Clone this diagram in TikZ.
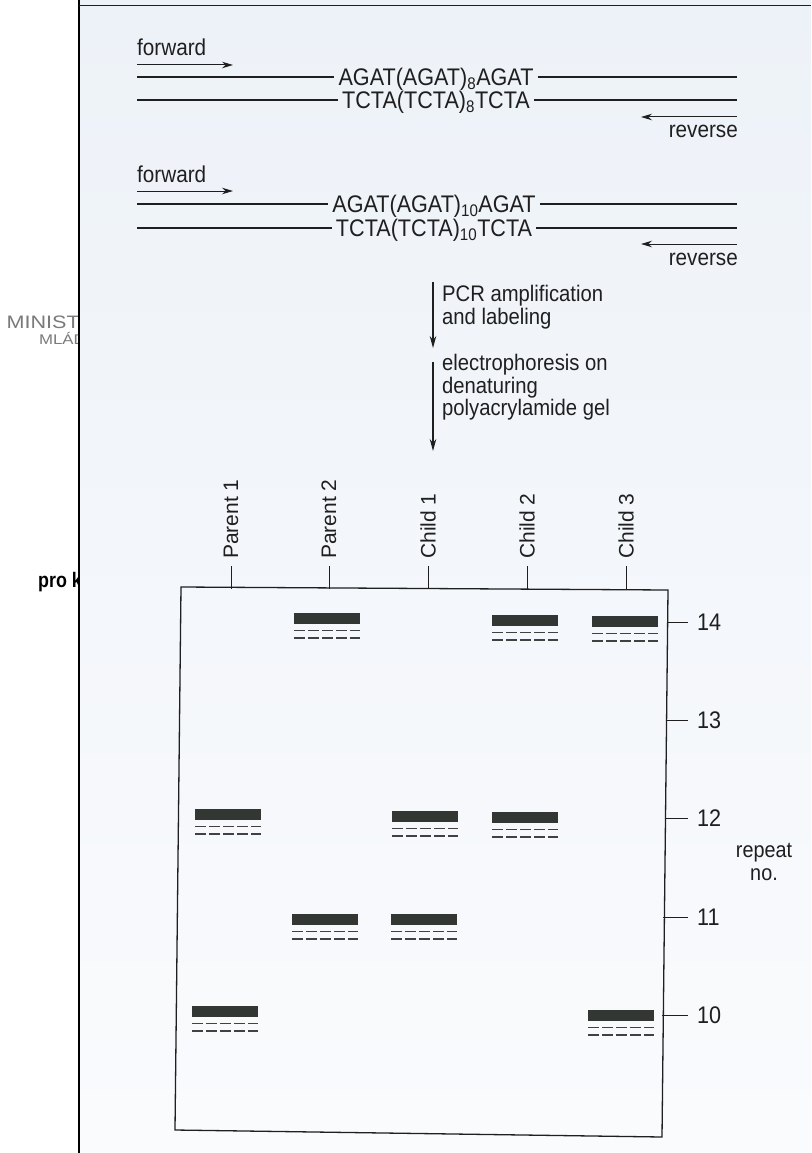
\documentclass[tikz,border=0pt]{standalone}
\usepackage{fontspec}
\setmainfont{Liberation Sans}
\newfontfamily\condsans{Liberation Sans}[FakeStretch=0.9]
\newfontfamily\widesans{Liberation Sans}[FakeStretch=1.2]
\newfontfamily\boldnarrow{Liberation Sans}[FakeStretch=0.85]
\usetikzlibrary{arrows.meta}
\definecolor{ink}{HTML}{1F1F1F}
\definecolor{bandc}{HTML}{333733}
\definecolor{bgtop}{HTML}{EDF2F8}
\definecolor{bgbot}{HTML}{FAFBFD}
\definecolor{margin}{HTML}{7A7A7A}
\begin{document}
\begin{tikzpicture}[x=1pt,y=-1pt,
  every node/.style={text=ink, inner sep=0pt},
  seq/.style={font=\condsans\fontsize{24}{26}\selectfont, inner xsep=4pt, text height=17pt, text depth=0pt},
  strand/.style={draw=ink, line width=1.9pt},
  primer/.style={draw=ink, line width=1pt, -{Stealth[length=11pt,width=6.5pt]}},
  lbl/.style={font=\condsans\fontsize{23}{25}\selectfont},
  flowarrow/.style={draw=ink, line width=1.2pt, -{Stealth[length=12pt,width=6.5pt]}},
  note/.style={font=\condsans\fontsize{22.5}{22.5}\selectfont, align=left, anchor=north west},
  lane/.style={font=\fontsize{21}{22}\selectfont, rotate=90, anchor=west},
  laneTick/.style={draw=ink, line width=1pt},
  gel/.style={draw=ink, line width=1.3pt},
  num/.style={font=\condsans\fontsize{24}{26}\selectfont, anchor=west},
  scaletick/.style={draw=ink, line width=1pt},
  dashln/.style={draw=ink!85, line width=1.7pt, dash pattern=on 10.5pt off 3.5pt},
  band/.pic={\fill[bandc] (-33,-5.5) rectangle (33,5.5);
             \draw[dashln] (-33,12.5) -- (33,12.5);
             \draw[dashln] (-33,20) -- (33,20);}
]
\useasboundingbox (0,0) rectangle (811,1153);
\fill[white] (0,0) rectangle (811,1153);
\shade[top color=bgtop, bottom color=bgbot] (79,0) rectangle (811,1153);

% margin fragments
\begin{scope}
\clip (0,0) rectangle (78,1153);
\node[font=\widesans\fontsize{18}{18}\selectfont, text=margin, anchor=base east] (mi) at (80,328) {MINIST};
\node[font=\widesans\fontsize{14}{14}\selectfont, text=margin, anchor=base east] (ml) at (86,344) {MLÁD};
\node[font=\boldnarrow\bfseries\fontsize{21}{21}\selectfont, text=black, anchor=base east] (pk) at (82,587) {pro k};
\end{scope}
\draw[black, line width=2.6pt] (79,0) -- (79,1153);
\draw[ink, line width=0.9pt] (79,5.5) -- (811,5.5);

% group 1
\node[lbl, anchor=base west] (fw1) at (137,56) {forward};
\coordinate (fa1) at (137,65); \coordinate (fb1) at (233,65);
\draw[primer] (fa1) -- (fb1);
\node[seq] (s1) at (436,77) {AGAT(AGAT)\textsubscript{8}AGAT};
\node[seq] (t1) at (436,100) {TCTA(TCTA)\textsubscript{8}TCTA};
\coordinate (s1l) at (137,77); \coordinate (s1r) at (737,77);
\coordinate (t1l) at (137,100); \coordinate (t1r) at (737,100);
\draw[strand] (s1l) -- (s1.west); \draw[strand] (s1.east) -- (s1r);
\draw[strand] (t1l) -- (t1.west); \draw[strand] (t1.east) -- (t1r);
\coordinate (ra1) at (737,117); \coordinate (rb1) at (641,117);
\draw[primer] (ra1) -- (rb1);
\node[lbl, anchor=base east] (rv1) at (738,138) {reverse};

% group 2
\node[lbl, anchor=base west] (fw2) at (137,182) {forward};
\coordinate (fa2) at (137,191); \coordinate (fb2) at (233,191);
\draw[primer] (fa2) -- (fb2);
\node[seq] (s2) at (434,204) {AGAT(AGAT)\textsubscript{10}AGAT};
\node[seq] (t2) at (434,228) {TCTA(TCTA)\textsubscript{10}TCTA};
\coordinate (s2l) at (137,204); \coordinate (s2r) at (737,204);
\coordinate (t2l) at (137,228); \coordinate (t2r) at (737,228);
\draw[strand] (s2l) -- (s2.west); \draw[strand] (s2.east) -- (s2r);
\draw[strand] (t2l) -- (t2.west); \draw[strand] (t2.east) -- (t2r);
\coordinate (ra2) at (737,244); \coordinate (rb2) at (641,244);
\draw[primer] (ra2) -- (rb2);
\node[lbl, anchor=base east] (rv2) at (738,265) {reverse};

% process arrows
\coordinate (p1a) at (433,282); \coordinate (p1b) at (433,348);
\draw[flowarrow] (p1a) -- (p1b);
\node[note] (pcr) at (442,285) {PCR amplification\\and labeling};
\coordinate (p2a) at (433,362); \coordinate (p2b) at (433,451);
\draw[flowarrow] (p2a) -- (p2b);
\node[note] (ele) at (442,354) {electrophoresis on\\denaturing\\polyacrylamide gel};

% gel
\coordinate (g1) at (181,587); \coordinate (g2) at (668,590);
\coordinate (g3) at (662,1137); \coordinate (g4) at (175,1130);
\draw[gel] (g1) -- (g2) -- (g3) -- (g4) -- cycle;

% lanes
\foreach \x/\n/\t in {231/L1/Parent 1, 329/L2/Parent 2, 428/L3/Child 1, 527/L4/Child 2, 626/L5/Child 3}{
  \node[lane] (\n) at (\x,559) {\t};
  \coordinate (\n a) at (\x,566);
  \coordinate (\n b) at (\x,588.5);
  \draw[laneTick] (\n a) -- (\n b);
}

% bands
\pic (b1) at (228,814) {band};
\pic (b2) at (225,1011) {band};
\pic (b3) at (327,618) {band};
\pic (b4) at (325,919) {band};
\pic (b5) at (425,816) {band};
\pic (b6) at (424,919) {band};
\pic (b7) at (525,620) {band};
\pic (b8) at (525,817) {band};
\pic (b9) at (625,621) {band};
\pic (b10) at (621,1015) {band};

% repeat scale
\foreach \y/\e/\n/\v in {622/666.7/N14/14, 720/665.6/N13/13, 818/664.5/N12/12, 917/663.4/N11/11, 1015/662.3/N10/10}{
  \node[num] (\n) at (697,\y) {\v};
  \coordinate (\n a) at (\e,\y);
  \coordinate (\n b) at (688,\y);
  \draw[scaletick] (\n a) -- (\n b);
}
\node[align=center, font=\condsans\fontsize{22}{23}\selectfont] (rep) at (764,862) {repeat\\no.};
\end{tikzpicture}
\end{document}
